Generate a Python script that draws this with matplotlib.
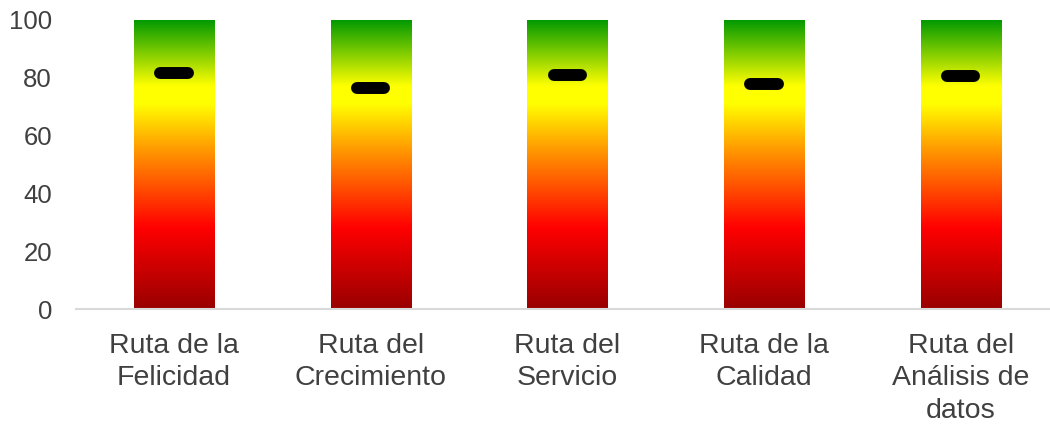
import numpy as np
import matplotlib
matplotlib.use("Agg")
import matplotlib.pyplot as plt
from matplotlib.colors import LinearSegmentedColormap

# data
rutas = ["Ruta de la\nFelicidad", "Ruta del\nCrecimiento", "Ruta del\nServicio",
         "Ruta de la\nCalidad", "Ruta del\nAnálisis de\ndatos"]
maximo = [100, 100, 100, 100, 100]
puntaje = [81.5, 76.5, 81.0, 78.0, 80.5]
yticks = [0, 20, 40, 60, 80, 100]

plt.rcParams["font.family"] = ["Liberation Sans", "DejaVu Sans"]
texto = "#404040"

# degradado rojo -> amarillo -> verde
cmap = LinearSegmentedColormap.from_list("semaforo", [
    (0.00, "#990000"),
    (0.28, "#ff0000"),
    (0.55, "#ff9900"),
    (0.71, "#ffff00"),
    (0.77, "#ffff00"),
    (1.00, "#009900"),
])

fig = plt.figure(figsize=(10.5, 4.24), dpi=100)
ax = fig.add_axes([0.072, 0.271, 0.928, 0.682])

ancho = 0.407
grad = np.linspace(0, 1, 256).reshape(-1, 1)
for i, m in enumerate(maximo):
    ax.imshow(grad, cmap=cmap, origin="lower", aspect="auto",
              extent=[i - ancho / 2, i + ancho / 2, 0, m], interpolation="bilinear", zorder=1)

for i, v in enumerate(puntaje):
    ax.plot([i - 0.07, i + 0.07], [v, v], color="black", lw=8.6,
            solid_capstyle="round", zorder=3)

ax.set_xlim(-0.5, 4.454)
ax.set_ylim(0, 100)
ax.set_xticks(range(len(rutas)))
ax.set_xticklabels(rutas, fontsize=20.5, color=texto, linespacing=1.33)
ax.set_yticks(yticks)
ax.set_yticklabels([str(t) for t in yticks], fontsize=18.5, color=texto)
ax.tick_params(axis="both", length=0)
ax.tick_params(axis="y", pad=17)
ax.tick_params(axis="x", pad=17)

for s in ["top", "right", "left"]:
    ax.spines[s].set_visible(False)
ax.spines["bottom"].set_color("#d9d9d9")
ax.spines["bottom"].set_linewidth(1.5)
ax.spines["bottom"].set_zorder(4)

fig.savefig("out.png", dpi=100)
